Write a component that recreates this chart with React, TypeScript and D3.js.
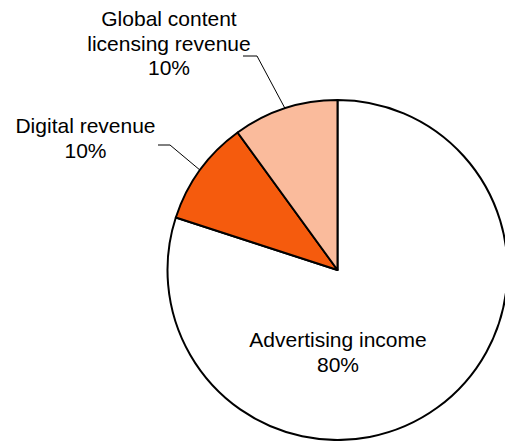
import { useMemo } from "react";
import * as d3 from "d3";

const categories = ["Advertising income", "Digital revenue", "Global content licensing revenue"];
const shares = [80, 10, 10];
const colors = ["#ffffff", "#f55b0d", "#fabb9c"];

// label lines as shown (manually placed, like the source chart)
const labelLines = [
  ["Advertising income", "80%"],
  ["Digital revenue", "10%"],
  ["Global content", "licensing revenue", "10%"],
];

const W = 505;
const H = 441;
const cx = 337.5;
const cy = 270;
const R = 170;
const fontSize = 21;
const lineGap = 24.5;

// label anchor (center x, first baseline y) and leader elbow, page coordinates
const labelPos = [
  { x: 338, y: 347, leader: null },
  { x: 85.5, y: 133, leader: [[158, 145], [170, 145]] },
  { x: 169, y: 26, leader: [[243, 56], [257, 56]] },
];

export default function App() {
  const arcs = useMemo(
    () =>
      d3
        .pie<number>()
        .sort(null)
        .value((d) => d)
        .startAngle(0)
        .endAngle(2 * Math.PI)(shares),
    [],
  );

  const arc = d3.arc<d3.PieArcDatum<number>>().innerRadius(0).outerRadius(R);

  return (
    <div style={{ position: "absolute", left: 0, top: 0 }}>
      <svg width={W} height={H} style={{ display: "block" }}>
        <rect width={W} height={H} fill="#ffffff" />
        <g transform={`translate(${cx},${cy})`}>
          {arcs.map((a, i) => (
            <path
              key={categories[i]}
              d={arc(a) ?? ""}
              fill={colors[i]}
              stroke="#000"
              strokeWidth={2}
              strokeLinejoin="round"
            />
          ))}
        </g>

        {/* leader lines */}
        {arcs.map((a, i) => {
          const lp = labelPos[i];
          if (!lp.leader) return null;
          const mid = (a.startAngle + a.endAngle) / 2;
          const ex = cx + R * Math.sin(mid);
          const ey = cy - R * Math.cos(mid);
          const pts: [number, number][] = [...(lp.leader as [number, number][]), [ex, ey]];
          return (
            <path
              key={"l" + i}
              d={d3.line()(pts) ?? ""}
              fill="none"
              stroke="#000"
              strokeWidth={1}
            />
          );
        })}

        {labelLines.map((lines, i) => (
          <text
            key={"t" + i}
            fontFamily="'Liberation Sans', Arial, sans-serif"
            fontSize={fontSize}
            fill="#000"
            textAnchor="middle"
          >
            {lines.map((ln, j) => (
              <tspan key={j} x={labelPos[i].x} y={labelPos[i].y + j * lineGap}>
                {ln}
              </tspan>
            ))}
          </text>
        ))}
      </svg>
    </div>
  );
}
